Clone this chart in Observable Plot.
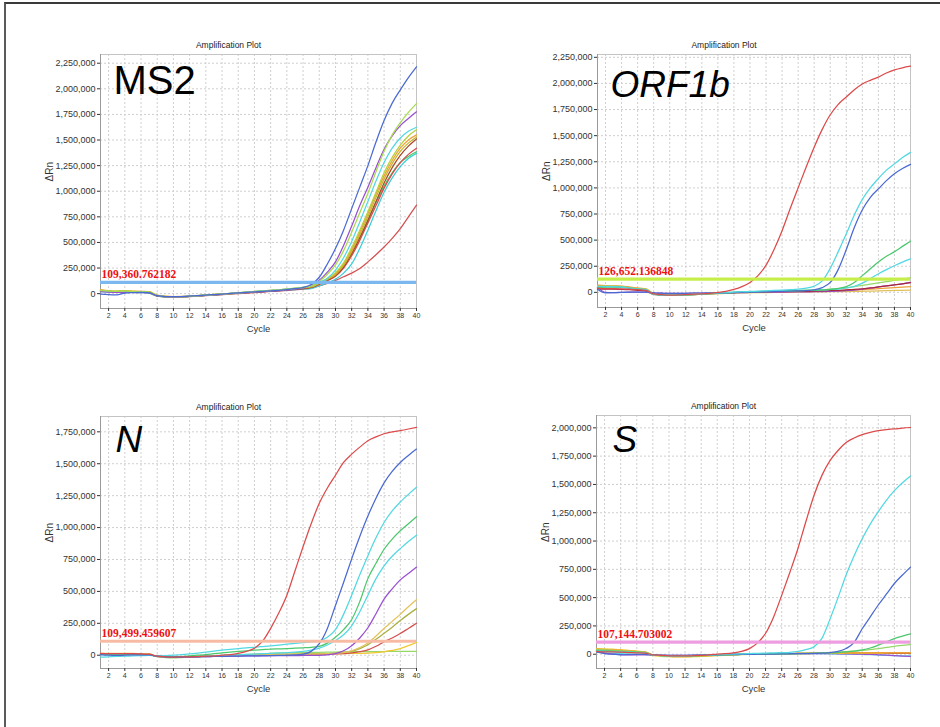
<!DOCTYPE html>
<html><head><meta charset="utf-8">
<script src="https://cdn.jsdelivr.net/npm/d3@7"></script>
<script src="https://cdn.jsdelivr.net/npm/@observablehq/plot@0.6"></script>
<style>
body{margin:0;background:#fff;}
#wrap{position:relative;width:940px;height:727px;overflow:hidden;font-family:"Liberation Sans",Arial,sans-serif;background:#fff;}
.cell{position:absolute;}
#border{position:absolute;left:4px;top:2px;width:960px;height:760px;border-top:2px solid #3a3a3a;border-left:2px solid #5a5a5a;}
</style></head><body><div id="wrap"><div id="border"></div></div>
<script>
// ---------- shared axes ----------
const cycles = [1,2,3,4,5,6,7,8,9,10,11,12,13,14,15,16,17,18,19,20,21,22,23,24,25,26,27,28,29,30,31,32,33,34,35,36,37,38,39,40];
const xTicks = [2,4,6,8,10,12,14,16,18,20,22,24,26,28,30,32,34,36,38,40];
const yTicks2250 = [0,250000,500000,750000,1000000,1250000,1500000,1750000,2000000,2250000];
const yTicks1750 = [0,250000,500000,750000,1000000,1250000,1500000,1750000];
const yTicks2000 = [0,250000,500000,750000,1000000,1250000,1500000,1750000,2000000];

// ---------- panel labels & thresholds ----------
const genes = ["MS2", "ORF1b", "N", "S"];
const thresholds = [109360.762182, 126652.136848, 109499.459607, 107144.703002];

// ---------- ΔRn values (thousands), cycles 1..40 ----------
// MS2
const ms2Blue   = [-5,-10,-12,5,10,12,10,-20,-28,-30,-28,-25,-20,-14,-9,-4,2,7,12,17,22,27,33,40,48,60,90,160,290,440,620,830,1040,1250,1480,1690,1860,1990,2110,2215];
const ms2YGreen = [30,25,22,24,20,18,15,-18,-28,-30,-29,-26,-21,-15,-10,-5,1,7,13,19,25,30,36,42,50,58,75,120,190,280,420,600,790,980,1190,1390,1550,1670,1770,1855];
const ms2Purple = [20,15,12,15,12,10,8,-22,-30,-32,-30,-27,-22,-16,-11,-6,0,5,10,15,20,25,30,36,44,55,80,130,210,310,470,660,860,1040,1230,1410,1540,1640,1710,1775];
const ms2CyanA  = [25,20,18,20,15,12,10,-20,-28,-30,-28,-25,-20,-14,-9,-4,2,8,14,20,26,31,37,44,52,62,75,110,150,230,350,510,700,900,1100,1280,1420,1520,1585,1625];
const ms2GYel   = [35,28,25,28,22,20,18,-18,-27,-30,-28,-25,-20,-14,-8,-3,3,9,15,21,27,32,38,45,53,62,70,105,145,205,300,450,620,800,990,1180,1330,1450,1540,1600];
const ms2Orange = [40,30,25,28,25,22,20,-15,-25,-28,-27,-24,-19,-13,-8,-3,3,9,14,20,26,31,37,44,52,60,70,105,145,195,290,430,600,780,970,1150,1300,1420,1500,1550];
const ms2Olive  = [30,22,20,22,18,16,14,-20,-28,-31,-29,-26,-21,-15,-10,-5,1,7,13,18,24,29,35,42,50,58,65,100,140,185,275,410,575,750,940,1120,1270,1390,1470,1530];
const ms2Brown  = [25,20,18,20,16,15,12,-22,-30,-32,-30,-27,-22,-16,-11,-6,0,5,10,15,20,25,30,36,43,50,60,95,130,175,260,390,545,715,900,1080,1230,1350,1440,1510];
const ms2Red    = [35,25,20,22,20,18,15,-20,-28,-30,-28,-25,-20,-15,-10,-5,0,5,10,15,20,25,30,36,43,50,60,90,125,170,250,370,520,690,860,1030,1170,1280,1360,1420];
const ms2Green  = [30,22,20,22,18,15,5,-25,-32,-33,-30,-27,-22,-16,-11,-5,1,7,13,19,25,30,36,43,50,58,65,100,140,180,265,395,550,720,890,1050,1180,1280,1340,1385];
const ms2CyanB  = [20,15,12,15,12,10,8,-22,-30,-32,-30,-27,-22,-16,-11,-6,0,5,10,15,20,25,30,35,40,45,50,75,105,140,200,290,440,620,810,990,1130,1240,1320,1370];
const ms2Red2   = [30,22,18,20,18,15,12,-22,-30,-32,-31,-28,-24,-19,-14,-9,-4,1,6,11,16,21,26,31,37,44,55,75,100,130,165,200,245,310,380,455,540,635,750,865];
// ORF1b
const orfRed     = [40,35,35,33,30,25,20,-15,-22,-27,-25,-22,-18,-14,-10,0,10,28,55,95,160,260,410,590,800,1000,1200,1390,1560,1700,1800,1870,1940,1995,2030,2060,2100,2130,2150,2165];
const orfCyan    = [55,55,55,50,40,30,25,-18,-24,-27,-25,-22,-18,-14,-10,-6,-2,2,6,9,12,15,18,21,25,30,40,60,110,230,390,560,740,890,1000,1090,1170,1230,1290,1340];
const orfBlue    = [30,-5,-3,0,2,2,2,-5,-8,-10,-10,-9,-8,-7,-6,-5,-4,-2,0,2,4,6,8,10,12,14,17,25,45,95,220,410,620,790,910,990,1070,1135,1185,1225];
const orfGreen   = [45,50,50,48,40,30,22,-20,-27,-30,-28,-25,-21,-17,-13,-9,-5,-2,1,4,6,8,10,12,14,16,18,20,22,28,38,55,95,160,225,290,345,390,440,490];
const orfCyan2   = [50,55,55,50,42,30,25,-18,-25,-28,-26,-23,-19,-15,-11,-7,-3,0,3,6,8,10,12,14,16,18,20,22,24,27,32,42,58,88,132,178,218,255,290,320];
const orfLGreen  = [60,60,58,55,45,35,30,-15,-24,-28,-26,-23,-19,-15,-11,-7,-3,0,3,5,7,9,11,13,15,17,19,22,26,30,36,44,55,66,78,90,102,114,128,140];
const orfDarkRed = [35,30,30,28,25,20,15,-20,-27,-30,-28,-25,-21,-17,-13,-9,-5,-2,0,2,4,5,6,7,8,9,10,12,14,17,20,24,28,34,42,52,62,72,82,92];
const orfPurple  = [50,0,-3,0,2,2,2,-5,-8,-10,-10,-9,-8,-7,-6,-5,-4,-3,-2,-1,0,1,2,3,4,5,5,6,7,9,12,16,22,30,40,52,62,72,82,95];
const orfOrange  = [70,65,62,60,50,40,32,-10,-20,-25,-24,-22,-19,-16,-13,-10,-7,-4,-2,0,2,3,4,5,6,7,8,9,10,12,15,18,22,26,30,35,40,45,50,55];
const orfTan     = [65,62,60,58,50,40,35,-10,-22,-28,-27,-25,-22,-19,-16,-13,-10,-8,-6,-4,-3,-2,-1,0,1,2,3,4,5,6,7,8,9,10,12,14,16,18,20,22];
// N
const nRed     = [15,12,12,12,12,10,8,-8,-12,-14,-13,-12,-10,-8,-6,0,5,15,30,55,110,210,330,470,660,850,1030,1190,1310,1410,1510,1575,1630,1680,1710,1735,1750,1760,1772,1785];
const nBlue    = [5,0,-2,0,2,3,3,-8,-12,-14,-14,-13,-12,-11,-10,-9,-8,-7,-6,-5,-4,-3,-2,0,2,8,30,90,210,390,570,755,930,1090,1230,1350,1440,1510,1565,1615];
const nCyanA   = [-15,-12,-10,-8,-6,-4,-2,-5,-3,0,5,10,17,25,32,40,46,52,57,62,68,74,80,86,92,98,104,112,140,200,320,470,630,780,920,1040,1130,1200,1260,1315];
const nGreen   = [10,8,8,8,8,6,5,-10,-12,-12,-10,-5,0,5,12,18,24,30,35,40,44,48,50,52,55,58,62,70,95,140,200,280,420,600,720,830,910,975,1030,1085];
const nCyanB   = [5,5,5,5,5,4,3,-8,-12,-13,-12,-10,-8,-6,-4,-2,0,3,6,9,12,15,18,21,25,30,40,55,80,115,160,230,340,470,600,700,775,835,890,940];
const nPurple  = [10,8,8,8,8,6,5,-10,-13,-14,-14,-13,-12,-11,-10,-9,-8,-7,-6,-5,-5,-4,-4,-3,-3,-2,-2,-1,3,12,35,75,135,215,325,440,520,590,640,690];
const nTan     = [12,12,12,12,12,10,8,-10,-15,-16,-15,-14,-12,-10,-8,-6,-4,-2,0,2,3,4,5,6,7,8,9,10,12,15,20,35,60,95,150,210,265,320,380,435];
const nOlive   = [10,10,10,10,10,8,6,-10,-14,-15,-14,-13,-11,-9,-7,-5,-3,-1,1,3,4,5,6,7,8,9,10,11,13,16,22,32,52,82,125,172,220,272,320,365];
const nRed2    = [12,10,10,10,10,8,6,-10,-14,-15,-14,-13,-11,-9,-7,-5,-3,-2,-1,0,1,2,3,4,5,6,7,8,9,10,12,18,28,42,70,105,135,170,210,250];
const nYellow  = [15,15,15,15,14,12,10,-8,-12,-13,-12,-11,-10,-8,-6,-4,-2,0,1,2,3,4,5,6,7,8,9,10,11,12,13,14,15,16,20,28,38,52,75,100];
const nLGreen  = [8,8,8,8,8,6,5,-12,-18,-20,-18,-15,-12,-9,-6,-3,0,3,6,9,12,14,16,18,20,21,22,23,24,25,26,27,28,28,29,29,30,30,30,30];
// S
const sRed     = [25,20,20,18,15,12,10,-5,-10,-14,-15,-15,-13,-10,-6,2,5,12,25,50,100,185,330,520,720,930,1170,1400,1580,1710,1800,1870,1910,1940,1960,1975,1985,1990,1998,2003];
const sCyan    = [30,25,22,20,18,15,12,-8,-12,-15,-16,-15,-13,-10,-7,-4,-1,2,4,6,8,10,12,14,17,25,40,65,140,310,500,700,870,1020,1150,1260,1360,1445,1515,1575];
const sBlue    = [20,5,0,-5,-3,-2,-2,-5,-8,-10,-10,-9,-8,-7,-6,-5,-4,-3,-2,-1,0,1,2,3,4,5,6,7,9,15,25,50,105,225,330,435,530,625,700,770];
const sGreen   = [35,30,28,25,22,18,15,-8,-12,-15,-16,-15,-14,-12,-10,-8,-6,-4,-2,0,1,2,3,4,5,6,7,8,10,12,15,20,27,38,55,80,108,138,160,180];
const sLGreen  = [40,38,35,30,26,22,18,-5,-12,-15,-16,-15,-14,-12,-10,-8,-6,-4,-2,0,1,2,3,4,5,6,8,10,12,15,18,22,27,33,40,50,60,70,78,86];
const sOrange  = [45,40,38,35,30,25,20,-5,-12,-18,-20,-20,-18,-15,-12,-9,-6,-3,0,2,4,5,6,7,8,9,10,11,12,12,13,13,14,14,14,15,15,15,15,15];
const sYellow  = [50,48,45,40,35,28,22,-10,-18,-22,-24,-24,-22,-19,-16,-13,-10,-7,-4,-2,0,1,2,3,4,5,6,7,7,8,8,9,9,10,10,10,11,11,11,12];
const sDarkRed = [30,28,26,24,22,18,15,-8,-12,-15,-15,-14,-12,-10,-8,-6,-4,-2,0,1,2,3,4,5,6,7,8,9,10,10,10,10,10,10,10,9,9,8,8,8];
const sPurple  = [25,10,2,-3,-5,-5,-5,-8,-10,-11,-11,-10,-9,-8,-6,-4,-2,0,2,3,4,5,5,5,5,5,5,5,5,5,4,3,2,0,-2,-5,-8,-12,-16,-20];
const sCyan2   = [20,12,8,5,3,0,-2,-8,-12,-14,-15,-14,-12,-10,-8,-6,-4,-2,0,2,3,4,5,6,6,6,6,6,5,4,3,2,0,-2,-4,-7,-10,-12,-14,-15];

// ---------- colours ----------
const C = {blue:"#4a69d2", ygreen:"#a8dc50", purple:"#9a4fd2", cyan:"#52d8e2", gyel:"#b4d23c", orange:"#f0a038",
  olive:"#c4b42c", brown:"#a84a2c", red:"#dc4a4a", green:"#4cc86c", cyan2:"#3ccfd8", red2:"#d45050",
  tan:"#e2c25a", lgreen:"#96d86a", darkred:"#a8283c", yellow:"#f0c830"};

const panels = [
  {gene: genes[0], italic:false, geneSize:40, geneDx:13, geneDy:11, thr: thresholds[0], thrColor:"#7cb8f0",
   left:0, top:0, width:470, height:363, mt:54, mb:55, ml:100, mr:54, yDomain:[-145000,2335000], yTicks:yTicks2250,
   series:[[ms2Red2,C.red2],[ms2CyanB,C.cyan2],[ms2Green,C.green],[ms2Red,C.red],[ms2Brown,C.brown],[ms2Olive,C.olive],
           [ms2Orange,C.orange],[ms2GYel,C.gyel],[ms2CyanA,C.cyan],[ms2Purple,C.purple],[ms2YGreen,C.ygreen],[ms2Blue,C.blue]]},
  {gene: genes[1], italic:true, geneSize:37, geneDx:13, geneDy:16, thr: thresholds[1], thrColor:"#c6ee4a",
   left:470, top:0, width:470, height:363, mt:54, mb:56, ml:127, mr:30, yDomain:[-145000,2277000], yTicks:yTicks2250,
   series:[[orfTan,C.tan],[orfOrange,C.orange],[orfPurple,C.purple],[orfDarkRed,C.darkred],[orfLGreen,C.lgreen],
           [orfCyan2,C.cyan],[orfGreen,C.green],[orfBlue,C.blue],[orfCyan,C.cyan],[orfRed,C.red]]},
  {gene: genes[2], italic:true, geneSize:37, geneDx:15, geneDy:9, thr: thresholds[2], thrColor:"#f7bba4",
   left:0, top:363, width:470, height:364, mt:53, mb:59, ml:100, mr:54, yDomain:[-104000,1870000], yTicks:yTicks1750,
   series:[[nLGreen,C.lgreen],[nYellow,C.yellow],[nRed2,C.red2],[nOlive,"#a8b040"],[nTan,C.tan],[nPurple,C.purple],
           [nCyanB,C.cyan],[nGreen,C.green],[nCyanA,C.cyan],[nBlue,C.blue],[nRed,C.red]]},
  {gene: genes[3], italic:true, geneSize:37, geneDx:16, geneDy:10, thr: thresholds[3], thrColor:"#ee9ee0",
   left:470, top:363, width:470, height:364, mt:52, mb:59, ml:126, mr:30, yDomain:[-126000,2109000], yTicks:yTicks2000,
   series:[[sCyan2,C.cyan],[sPurple,C.purple],[sDarkRed,C.darkred],[sYellow,C.yellow],[sOrange,C.orange],
           [sLGreen,C.lgreen],[sGreen,C.green],[sBlue,C.blue],[sCyan,C.cyan],[sRed,C.red]]}
];

const fmt = d3.format(",");
const thrFmt = d3.format(",.6f");
const wrap = document.getElementById("wrap");

for (const p of panels) {
  const lineMarks = p.series.map(([vals, color]) => {
    const rows = vals.map((v, i) => ({cycle: cycles[i], value: v * 1000}));
    return Plot.line(rows, {x: "cycle", y: "value", stroke: color, strokeWidth: 1.25, curve: "monotone-x"});
  });
  const chart = Plot.plot({
    width: p.width, height: p.height,
    marginTop: p.mt, marginBottom: p.mb, marginLeft: p.ml, marginRight: p.mr,
    style: {fontFamily: "'Liberation Sans', Arial, sans-serif", background: "transparent", color: "#222"},
    x: {domain: [1, 40]},
    y: {domain: p.yDomain},
    marks: [
      Plot.gridX(xTicks, {stroke: "#cfcfcf", strokeOpacity: 1, strokeDasharray: "2,2"}),
      Plot.gridY(p.yTicks, {stroke: "#cfcfcf", strokeOpacity: 1, strokeDasharray: "2,2"}),
      Plot.frame({stroke: "#c4c4c4"}),
      Plot.ruleX([1], {stroke: "#9a9a9a"}),
      Plot.ruleY([p.yDomain[0]], {stroke: "#9a9a9a"}),
      ...lineMarks,
      Plot.ruleY([p.thr], {stroke: p.thrColor, strokeWidth: 3.2}),
      Plot.text([p.thr], {y: d => d, frameAnchor: "left", text: d => thrFmt(d), textAnchor: "start", dx: 1, dy: -8,
        fill: "#ee1111", fontWeight: "bold", fontFamily: "'Liberation Serif', 'DejaVu Serif', serif", fontSize: 11.5}),
      Plot.axisX(xTicks, {tickSize: 3, tickPadding: 2, fontSize: 7, label: null, color: "#333"}),
      Plot.axisY(p.yTicks, {tickSize: 3, tickPadding: 2, fontSize: 9, label: null, tickFormat: fmt, color: "#333"}),
      Plot.text(["Amplification Plot"], {frameAnchor: "top", dx: -30, dy: -9, lineAnchor: "middle", fontSize: 8.5, fill: "#222"}),
      Plot.text(["Cycle"], {frameAnchor: "bottom", dy: 20, lineAnchor: "middle", fontSize: 9.5, fill: "#333"}),
      Plot.text(["ΔRn"], {frameAnchor: "left", dx: -51, rotate: -90, lineAnchor: "middle", fontSize: 10, fill: "#333"}),
      Plot.text([p.gene], {frameAnchor: "top-left", textAnchor: "start", lineAnchor: "top", dx: p.geneDx, dy: p.geneDy,
        fontSize: p.geneSize, fontStyle: p.italic ? "italic" : "normal", fill: "#000"})
    ]
  });
  const cell = document.createElement("div");
  cell.className = "cell";
  cell.style.left = p.left + "px";
  cell.style.top = p.top + "px";
  cell.appendChild(chart);
  wrap.appendChild(cell);
}
</script>
</body></html>
